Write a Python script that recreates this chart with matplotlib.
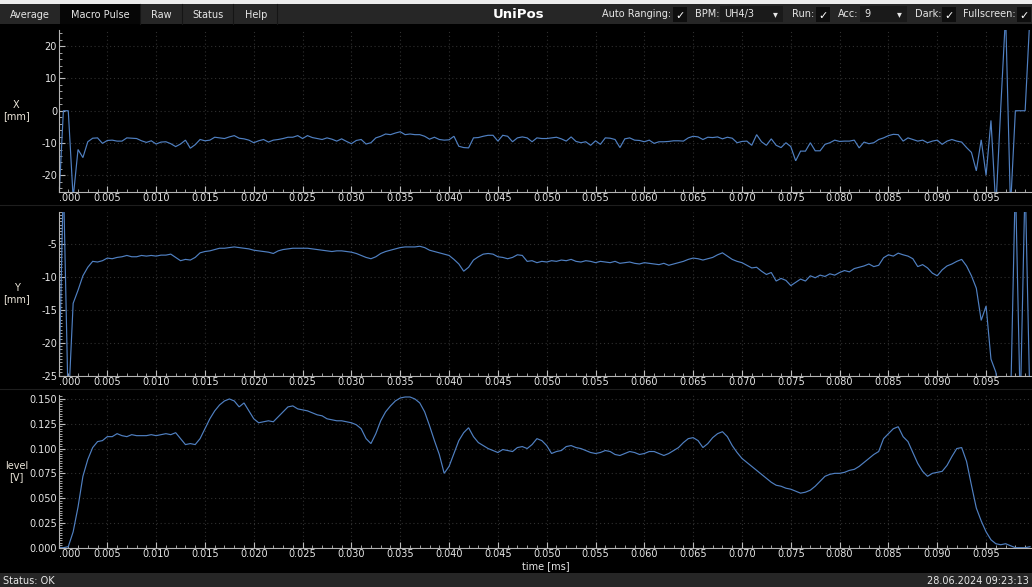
import numpy as np
import matplotlib
matplotlib.use("Agg")
import matplotlib.pyplot as plt
from matplotlib.patches import Rectangle
from matplotlib.ticker import FixedLocator, MultipleLocator

# ---------------------------------------------------------------- data
DT = 0.0005  # sample spacing [ms]

x_pos = [
    -30, 0, 0, -27, -12, -14.5, -9.6, -8.5, -8.4, -10.1,
    -9.2, -9.1, -9.4, -9.4, -8.4, -8.5, -8.6, -9.3, -9.8, -9.3,
    -10.3, -9.7, -9.6, -10.2, -11.1, -10.3, -9.1, -11.6, -10.5, -8.9,
    -9.3, -9.1, -8.2, -8.4, -8.6, -8.1, -7.7, -8.5, -8.7, -9.1,
    -9.9, -9.3, -8.9, -9.7, -9.1, -8.9, -8.6, -8.2, -8.2, -7.7,
    -8.6, -7.7, -8.3, -8.6, -8.9, -8.4, -8.8, -9.4, -8.7, -9.5,
    -10.2, -9.2, -8.9, -10.3, -9.9, -8.4, -7.9, -7.2, -7.4, -6.9,
    -6.5, -7.4, -7.2, -7.4, -7.4, -7.9, -8.8, -8.2, -8.9, -9.1,
    -9.0, -7.9, -11.0, -11.4, -11.5, -8.4, -8.3, -7.9, -7.6, -7.6,
    -9.4, -7.6, -7.9, -9.6, -8.4, -8.1, -8.4, -9.6, -8.4, -8.6,
    -8.6, -8.4, -8.2, -8.7, -9.4, -8.1, -9.5, -9.9, -9.6, -10.7,
    -9.3, -10.4, -8.4, -8.5, -8.9, -11.4, -8.7, -8.4, -9.1, -9.2,
    -9.6, -9.1, -10.1, -9.6, -9.6, -9.5, -9.3, -9.3, -9.4, -8.4,
    -7.9, -8.1, -8.9, -8.2, -8.3, -8.1, -8.7, -8.2, -8.5, -9.9,
    -9.5, -9.4, -10.7, -7.4, -9.6, -10.7, -8.7, -10.7, -11.4, -9.9,
    -11.1, -15.5, -12.5, -12.5, -9.9, -12.4, -12.4, -10.4, -9.9, -9.1,
    -9.5, -9.4, -9.4, -9.1, -11.5, -9.7, -10.2, -9.9, -8.9, -8.4,
    -7.7, -7.3, -7.4, -9.4, -8.4, -8.9, -9.4, -9.1, -9.9, -9.4,
    -9.1, -10.4, -9.4, -8.9, -9.4, -9.7, -11.4, -12.9, -18.6, -9.0,
    -20.0, -3.0, -30, 0.8, 30, -30, 0, 0, 0, 30,
]

y_pos = [
    -30, 5, -30, -14.0, -12.0, -9.8, -8.5, -7.6, -7.7, -7.5,
    -7.1, -7.2, -7.0, -6.9, -6.7, -6.9, -6.9, -6.7, -6.8, -6.7,
    -6.8, -6.65, -6.65, -6.5, -7.0, -7.5, -7.3, -7.4, -7.0, -6.3,
    -6.1, -6.0, -5.8, -5.6, -5.6, -5.5, -5.4, -5.5, -5.6, -5.7,
    -5.9, -6.0, -6.1, -6.2, -6.4, -6.0, -5.8, -5.7, -5.6, -5.6,
    -5.6, -5.6, -5.7, -5.8, -5.9, -6.0, -6.1, -6.0, -6.0, -6.1,
    -6.2, -6.4, -6.7, -7.0, -7.2, -6.9, -6.4, -6.1, -5.9, -5.7,
    -5.5, -5.4, -5.4, -5.4, -5.3, -5.5, -5.9, -6.1, -6.3, -6.5,
    -6.7, -7.3, -8.0, -9.1, -8.5, -7.4, -6.9, -6.5, -6.4, -6.5,
    -6.9, -7.0, -7.2, -7.0, -6.6, -6.7, -7.6, -7.5, -7.8, -7.6,
    -7.7, -7.5, -7.6, -7.4, -7.5, -7.3, -7.6, -7.7, -7.5, -7.6,
    -7.8, -7.6, -7.7, -7.8, -7.6, -7.9, -7.8, -7.7, -7.9, -8.0,
    -7.8, -7.9, -8.0, -8.1, -7.9, -8.2, -8.0, -7.8, -7.6, -7.3,
    -7.1, -7.2, -7.4, -7.2, -7.0, -6.6, -6.3, -6.8, -7.3, -7.6,
    -7.8, -8.2, -8.6, -8.5, -9.1, -9.6, -9.3, -10.6, -10.2, -10.5,
    -11.3, -10.8, -10.3, -10.6, -9.8, -10.1, -9.7, -9.9, -9.5, -9.7,
    -9.3, -9.0, -9.2, -8.7, -8.5, -8.3, -8.0, -8.4, -8.2, -7.05,
    -6.6, -6.8, -6.35, -6.6, -6.8, -7.2, -8.4, -8.1, -8.6, -9.4,
    -9.8, -8.9, -8.3, -8.0, -7.6, -7.3, -8.3, -9.8, -11.7, -16.6,
    -14.4, -22.5, -24.5, -30, -30, -30, 5, -30, 5, -30,
]

level = [
    0.000, 0.000, 0.001, 0.016, 0.041, 0.072, 0.089, 0.101, 0.107, 0.108,
    0.112, 0.112, 0.115, 0.113, 0.112, 0.114, 0.113, 0.113, 0.113, 0.114,
    0.113, 0.114, 0.115, 0.114, 0.116, 0.110, 0.104, 0.105, 0.104, 0.110,
    0.120, 0.130, 0.138, 0.144, 0.148, 0.150, 0.148, 0.142, 0.146, 0.138,
    0.130, 0.126, 0.127, 0.128, 0.127, 0.132, 0.137, 0.142, 0.143, 0.140,
    0.139, 0.138, 0.136, 0.134, 0.133, 0.130, 0.129, 0.128, 0.128, 0.127,
    0.126, 0.124, 0.120, 0.110, 0.105, 0.115, 0.128, 0.137, 0.143, 0.148,
    0.151, 0.152, 0.152, 0.150, 0.146, 0.137, 0.123, 0.108, 0.094, 0.075,
    0.082, 0.095, 0.108, 0.116, 0.121, 0.112, 0.106, 0.103, 0.100, 0.098,
    0.096, 0.099, 0.098, 0.097, 0.101, 0.102, 0.100, 0.104, 0.110, 0.108,
    0.103, 0.095, 0.097, 0.098, 0.102, 0.103, 0.101, 0.100, 0.098, 0.096,
    0.095, 0.096, 0.098, 0.097, 0.094, 0.093, 0.095, 0.097, 0.096, 0.094,
    0.095, 0.097, 0.097, 0.095, 0.093, 0.095, 0.098, 0.101, 0.106, 0.110,
    0.111, 0.108, 0.101, 0.105, 0.111, 0.115, 0.117, 0.112, 0.103, 0.096,
    0.090, 0.086, 0.082, 0.078, 0.074, 0.070, 0.066, 0.063, 0.062, 0.060,
    0.059, 0.057, 0.055, 0.056, 0.058, 0.062, 0.067, 0.072, 0.074, 0.075,
    0.075, 0.076, 0.078, 0.079, 0.082, 0.086, 0.090, 0.094, 0.097, 0.110,
    0.115, 0.120, 0.122, 0.112, 0.107, 0.096, 0.085, 0.077, 0.072, 0.075,
    0.076, 0.077, 0.083, 0.092, 0.100, 0.101, 0.087, 0.063, 0.040, 0.027,
    0.016, 0.008, 0.004, 0.003, 0.004, 0.002, 0.000, 0.000, 0.000, 0.001,
]

time = np.arange(len(level)) * DT

x_ticks = [round(0.005 * k, 3) for k in range(20)]
x_tick_labels = [".000"] + [f"{v:.3f}" for v in x_ticks[1:]]

tabs = ["Average", "Macro Pulse", "Raw", "Status", "Help"]
title = "UniPos"
status_text = "Status: OK"
timestamp = "28.06.2024 09:23:13"

# ---------------------------------------------------------------- style
W, H = 1032, 587
LINE = "#5080c2"
TEXT = "#e6e6e6"
LABEL = "#ece6da"
BAR = "#262626"
XMAX = 0.0996

plt.rcParams["font.family"] = ["DejaVu Sans"]

fig = plt.figure(figsize=(W / 100, H / 100), dpi=100, facecolor="black")


def px_axes(left, top, right, bottom):
    return fig.add_axes([left / W, 1 - bottom / H, (right - left) / W, (bottom - top) / H])


def panel(ax, values, ylim, yticks, ylabels, minor, name):
    ax.set_facecolor("black")
    ax.plot(time, values, color=LINE, lw=0.85, solid_joinstyle="miter")
    ax.set_xlim(0, XMAX)
    ax.set_ylim(*ylim)
    for s in ("top", "right"):
        ax.spines[s].set_visible(False)
    for s in ("left", "bottom"):
        ax.spines[s].set_color("#b4b4b4")
        ax.spines[s].set_linewidth(0.8)
    ax.xaxis.set_major_locator(FixedLocator(x_ticks))
    ax.set_xticklabels(x_tick_labels)
    # the first time label starts at the axis origin, clear of the y labels
    ax.get_xticklabels()[0].set_horizontalalignment("left")
    ax.xaxis.set_minor_locator(MultipleLocator(0.001))
    ax.yaxis.set_major_locator(FixedLocator(yticks))
    ax.set_yticklabels(ylabels)
    ax.yaxis.set_minor_locator(MultipleLocator(minor))
    ax.tick_params(which="both", direction="in", colors="#bcbcbc",
                   labelcolor=TEXT, labelsize=7, pad=1)
    ax.tick_params(which="major", length=4, width=0.8)
    ax.tick_params(which="minor", length=2, width=0.6)
    ax.grid(True, which="major", color="#303030", linestyle=(0, (1, 2.5)), linewidth=0.8)
    ax.set_axisbelow(True)
    # axis caption on the left
    pos = ax.get_position()
    fig.text(16.5 / W, pos.y0 + pos.height / 2, name, ha="center", va="center",
             color=LABEL, fontsize=7, linespacing=1.1)


ax1 = px_axes(58.5, 30, 1031, 191.5)
panel(ax1, x_pos, (-25, 25), [-20, -10, 0, 10, 20], ["-20", "-10", "0", "10", "20"], 2, "X\n[mm]")

ax2 = px_axes(58.5, 211.5, 1031, 375.5)
panel(ax2, y_pos, (-25, 0), [-25, -20, -15, -10, -5], ["-25", "-20", "-15", "-10", "-5"], 0.5, "Y\n[mm]")

ax3 = px_axes(58.5, 395, 1031, 547.7)
lv_ticks = [0.0, 0.025, 0.05, 0.075, 0.1, 0.125, 0.15]
panel(ax3, level, (0, 0.154), lv_ticks, [f"{v:.3f}" for v in lv_ticks], 0.0025, "level\n[V]")

# ---------------------------------------------------------------- window chrome
ov = fig.add_axes([0, 0, 1, 1], zorder=10)
ov.set_xlim(0, W)
ov.set_ylim(H, 0)
ov.axis("off")
ov.patch.set_alpha(0)

# faint separators between panels
for yy in (205, 389):
    ov.plot([0, W], [yy, yy], color="#1e1e1e", lw=0.8)

# top strip and tab bar
ov.add_patch(Rectangle((0, 0), W, 4, color="#ececec", lw=0))
ov.add_patch(Rectangle((0, 4), W, 20, color=BAR, lw=0))
ov.add_patch(Rectangle((60, 4), 80, 20, color="#060606", lw=0))
for xx in (140, 182, 233, 277):
    ov.plot([xx, xx], [4, 24], color="#151515", lw=0.8)

tab_x = [30, 100, 161, 208, 256]
for name, xx in zip(tabs, tab_x):
    ov.text(xx, 14.5, name, ha="center", va="center", color=TEXT, fontsize=7)

ov.text(519, 14, title, ha="center", va="center", color="white",
        fontsize=9.5, fontweight="bold")


def checkbox(xx):
    ov.add_patch(Rectangle((xx, 7), 14, 15, color="#0e0e0e", lw=0))
    ov.text(xx + 7, 15.5, "\u2713", ha="center", va="center", color="white", fontsize=8)


def dropdown(xx, w, value):
    ov.add_patch(Rectangle((xx, 6), w, 16, color="#1a1a1a", lw=0))
    ov.text(xx + 4, 14, value, ha="left", va="center", color=TEXT, fontsize=7)
    ov.text(xx + w - 8, 14.5, "\u25BE", ha="center", va="center", color=TEXT, fontsize=7)


ov.text(602, 14, "Auto Ranging:", ha="left", va="center", color=TEXT, fontsize=7)
checkbox(673)
ov.text(695, 14, "BPM:", ha="left", va="center", color=TEXT, fontsize=7)
dropdown(720, 63, "UH4/3")
ov.text(792, 14, "Run:", ha="left", va="center", color=TEXT, fontsize=7)
checkbox(816)
ov.text(838, 14, "Acc:", ha="left", va="center", color=TEXT, fontsize=7)
dropdown(860, 47, "9")
ov.text(915, 14, "Dark:", ha="left", va="center", color=TEXT, fontsize=7)
checkbox(942)
ov.text(963, 14, "Fullscreen:", ha="left", va="center", color=TEXT, fontsize=7)
checkbox(1017)

# x axis caption
ov.text(546, 566, "time [ms]", ha="center", va="center", color=TEXT, fontsize=7)

# status bar
ov.add_patch(Rectangle((0, 573), W, 14, color=BAR, lw=0))
ov.text(3, 580.5, status_text, ha="left", va="center", color=TEXT, fontsize=7)
ov.text(1029, 580.5, timestamp, ha="right", va="center", color=TEXT, fontsize=7)

fig.savefig("out.png", dpi=100, facecolor="black")
